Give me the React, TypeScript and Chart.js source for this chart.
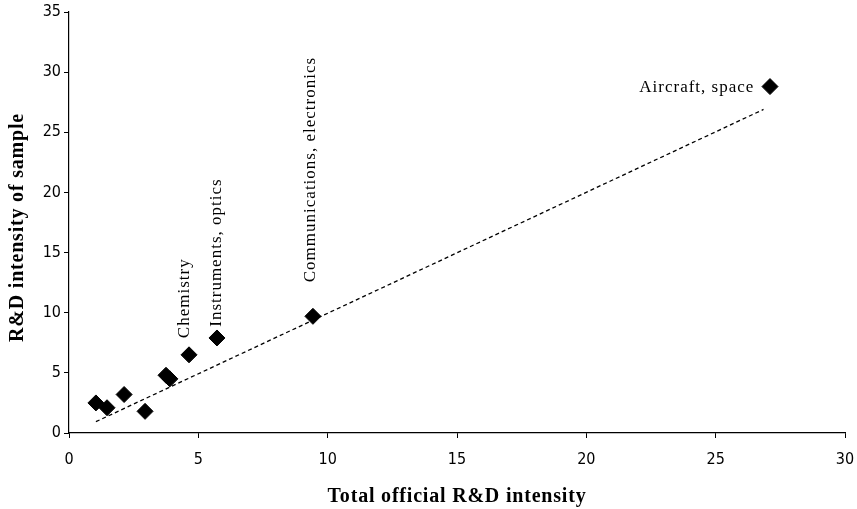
import React, { useEffect, useRef } from 'react';
import { Chart, registerables } from 'chart.js';

Chart.register(...registerables);

// Data
const officialIntensity = [1.04, 1.47, 2.13, 2.94, 3.75, 3.9, 4.64, 5.72, 9.43, 27.1];
const sampleIntensity = [2.5, 2.1, 3.2, 1.8, 4.8, 4.5, 6.5, 7.9, 9.7, 28.8];
const trendX = [1.04, 26.85];
const trendY = [0.94, 26.9];

const labelTexts = ['Chemistry', 'Instruments, optics', 'Communications, electronics', 'Aircraft, space'];
const labelX = [4.48, 5.72, 9.35, 24.27];
const labelY = [11.2, 15.0, 21.9, 28.76];
const labelVertical = [true, true, true, false];

const xTitle = 'Total official R&D intensity';
const yTitle = 'R&D intensity of sample';

const SERIF = '"Liberation Serif", "Times New Roman", serif';
const NARROW = '"Liberation Sans Narrow", "DejaVu Sans Condensed", sans-serif';

const annotatePlugin = {
  id: 'annotate',
  afterDatasetsDraw(chart: any) {
    const ctx = chart.ctx as CanvasRenderingContext2D;
    const xs = chart.scales.x;
    const ys = chart.scales.y;
    ctx.save();
    ctx.fillStyle = '#000';
    ctx.font = `17px ${SERIF}`;
    (ctx as any).letterSpacing = '1px';
    ctx.textAlign = 'center';
    ctx.textBaseline = 'middle';
    for (let i = 0; i < labelTexts.length; i++) {
      const px = xs.getPixelForValue(labelX[i]);
      const py = ys.getPixelForValue(labelY[i]);
      ctx.save();
      ctx.translate(px, py);
      if (labelVertical[i]) ctx.rotate(-Math.PI / 2);
      ctx.fillText(labelTexts[i], 0, 0);
      ctx.restore();
    }
    // axis titles
    ctx.font = `bold 20px ${SERIF}`;
    (ctx as any).letterSpacing = '0.8px';
    const area = chart.chartArea;
    ctx.fillText(xTitle, (area.left + area.right) / 2, 497);
    ctx.save();
    ctx.translate(18, (area.top + area.bottom) / 2 + 5);
    ctx.rotate(-Math.PI / 2);
    ctx.fillText(yTitle, 0, 0);
    ctx.restore();
    ctx.restore();
  },
};

export default function App() {
  const ref = useRef<HTMLCanvasElement | null>(null);
  useEffect(() => {
    if (!ref.current) return;
    const points = officialIntensity.map((x, i) => ({ x, y: sampleIntensity[i] }));
    const trend = trendX.map((x, i) => ({ x, y: trendY[i] }));
    const chart = new Chart(ref.current, {
      type: 'scatter',
      data: {
        datasets: [
          {
            type: 'line' as any,
            data: trend,
            borderColor: '#000',
            borderWidth: 1.3,
            borderDash: [4, 3],
            pointRadius: 0,
            fill: false,
            order: 2,
          },
          {
            data: points,
            pointStyle: 'rectRot',
            pointRadius: 8,
            backgroundColor: '#000',
            borderColor: '#000',
            order: 1,
          },
        ],
      } as any,
      options: {
        animation: false,
        responsive: false,
        devicePixelRatio: 1,
        layout: { padding: { top: 12, right: 12, left: 0, bottom: 0 } },
        plugins: { legend: { display: false }, tooltip: { enabled: false } },
        scales: {
          x: {
            type: 'linear',
            min: 0,
            max: 30,
            afterFit(scale: any) {
              scale.height = 76;
              scale.paddingLeft = 0;
              scale.paddingRight = 0;
            },
            border: { display: true, color: '#000', width: 1.2 },
            grid: { drawOnChartArea: false, drawTicks: true, tickLength: 5, color: '#000' },
            ticks: {
              stepSize: 5,
              color: '#000',
              padding: 12,
              font: { family: NARROW, size: 16 },
            },
          },
          y: {
            type: 'linear',
            min: 0,
            max: 35,
            afterFit(scale: any) {
              scale.width = 69;
              scale.paddingTop = 0;
              scale.paddingBottom = 0;
            },
            border: { display: true, color: '#000', width: 1.2 },
            grid: { drawOnChartArea: false, drawTicks: true, tickLength: 5, color: '#000' },
            ticks: {
              stepSize: 5,
              color: '#000',
              padding: 3,
              font: { family: NARROW, size: 16 },
            },
          },
        },
      },
      plugins: [annotatePlugin],
    } as any);
    return () => chart.destroy();
  }, []);
  return (
    <div style={{ position: 'fixed', left: 0, top: 0, width: 857, height: 509, background: '#fff' }}>
      <canvas ref={ref} width={857} height={509} style={{ display: 'block' }} />
    </div>
  );
}
